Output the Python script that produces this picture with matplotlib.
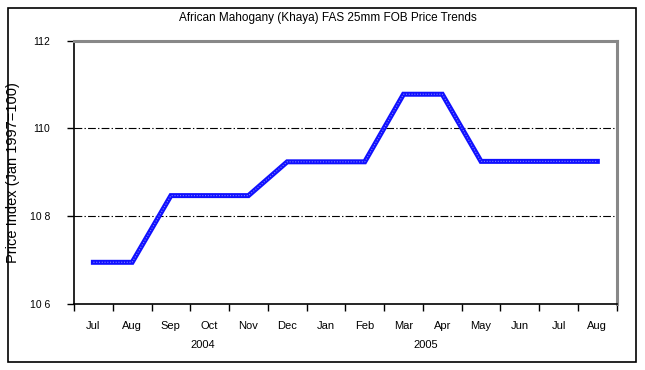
import numpy as np
import matplotlib
matplotlib.use("Agg")
import matplotlib.pyplot as plt
from matplotlib.patches import Rectangle

# data
months = ["Jul", "Aug", "Sep", "Oct", "Nov", "Dec", "Jan", "Feb",
          "Mar", "Apr", "May", "Jun", "Jul", "Aug"]
price_index = [106.95, 106.95, 108.47, 108.47, 108.47, 109.24, 109.24, 109.24,
               110.78, 110.78, 109.25, 109.25, 109.25, 109.25]
years = ["2004", "2005"]
y_ticks = [106, 108, 110, 112]
y_tick_labels = ["10 6", "10 8", "110", "112"]

plt.rcParams['font.family'] = ['Liberation Sans', 'DejaVu Sans']

fig = plt.figure(figsize=(6.45, 3.7), dpi=100)
ax = fig.add_axes([74/645, 1-304/370, (616.7-74)/645, (304-40.7)/370])

x = np.arange(len(months))

# gridlines (only the inner ones)
for yv in [108, 110]:
    ax.axhline(yv, color='black', lw=0.8, dashes=(7, 2, 1.2, 2), zorder=1)

ax.plot(x, price_index, color='#1010ff', lw=3.6, solid_joinstyle='miter', zorder=3)
ax.plot(x, price_index, color='#8080ff', lw=0.8, ls=(0, (1, 1.5)), zorder=4)

ax.set_xlim(-0.5, len(months)-0.5)
ax.set_ylim(106, 112)

# ticks at category boundaries, labels at centres
ax.set_xticks(np.arange(-0.5, len(months)), labels=[])
ax.set_xticks(x, labels=months, minor=True)
ax.tick_params(axis='x', which='major', direction='out', length=5, width=1, color='black')
ax.tick_params(axis='x', which='minor', length=0, pad=12, labelsize=8)
ax.set_yticks(y_ticks, labels=y_tick_labels)
ax.tick_params(axis='y', direction='out', length=5, width=1, pad=12, labelsize=7.5)

for s in ['left', 'bottom']:
    ax.spines[s].set_color('black')
    ax.spines[s].set_linewidth(1.2)
for s in ['top', 'right']:
    ax.spines[s].set_color('#888888')
    ax.spines[s].set_linewidth(2.2)

ax.set_ylabel("Price Index (Jan 1997=100)", fontsize=10.5)
ax.yaxis.set_label_coords(-0.1, 0.5)

# year labels under the month labels
ax.text(2.82, -0.155, years[0], transform=ax.get_xaxis_transform(),
        ha='center', va='center', fontsize=8)
ax.text(8.57, -0.155, years[1], transform=ax.get_xaxis_transform(),
        ha='center', va='center', fontsize=8)

fig.text(328/645, 1-18/370, "African Mahogany (Khaya) FAS 25mm FOB Price Trends",
         ha='center', va='center', fontsize=8.5)

# outer chart border
fig.patches.append(Rectangle((7.5/645, 8/370), 628/645, 354/370,
                             transform=fig.transFigure, fill=False,
                             edgecolor='black', lw=1.2))

fig.savefig("out.png", dpi=100)
